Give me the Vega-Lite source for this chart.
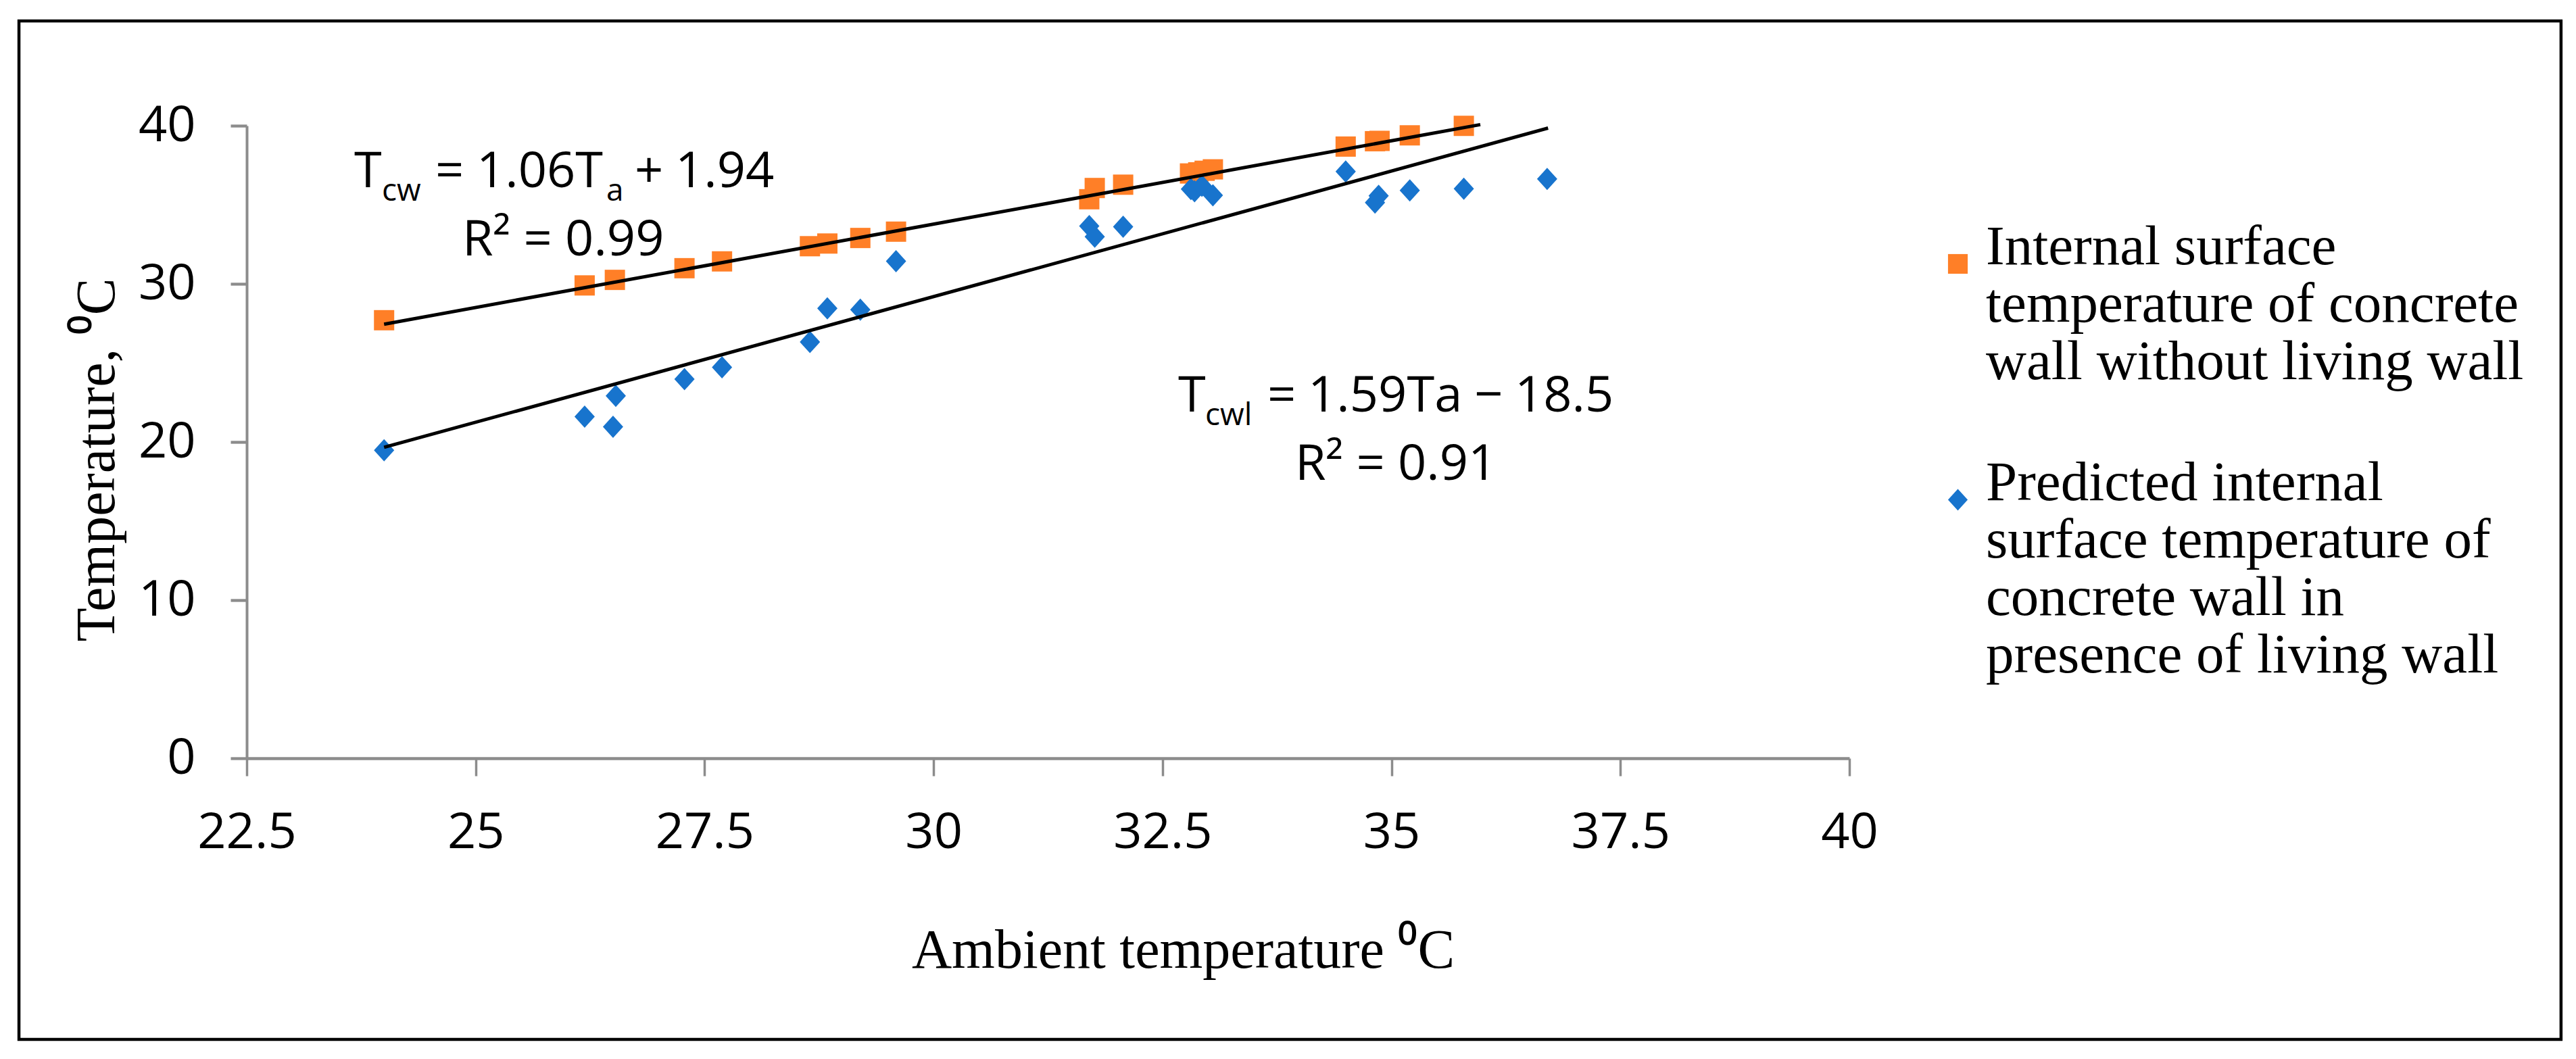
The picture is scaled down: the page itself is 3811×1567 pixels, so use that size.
{
  "$schema": "https://vega.github.io/schema/vega-lite/v6.json",
  "autosize": {"type": "none"},
  "padding": {"left": 365, "top": 186, "right": 1075, "bottom": 445},
  "width": 2371,
  "height": 936,
  "background": "white",
  "datasets": {
    "points": [
      {"series": "Internal surface temperature of concrete wall without living wall", "ta": 24.0, "t": 27.7},
      {"series": "Internal surface temperature of concrete wall without living wall", "ta": 26.19, "t": 29.9},
      {"series": "Internal surface temperature of concrete wall without living wall", "ta": 26.52, "t": 30.25},
      {"series": "Internal surface temperature of concrete wall without living wall", "ta": 27.28, "t": 30.99},
      {"series": "Internal surface temperature of concrete wall without living wall", "ta": 27.69, "t": 31.42},
      {"series": "Internal surface temperature of concrete wall without living wall", "ta": 28.65, "t": 32.38},
      {"series": "Internal surface temperature of concrete wall without living wall", "ta": 28.84, "t": 32.55},
      {"series": "Internal surface temperature of concrete wall without living wall", "ta": 29.2, "t": 32.9},
      {"series": "Internal surface temperature of concrete wall without living wall", "ta": 29.59, "t": 33.3},
      {"series": "Internal surface temperature of concrete wall without living wall", "ta": 31.7, "t": 35.35},
      {"series": "Internal surface temperature of concrete wall without living wall", "ta": 31.76, "t": 36.06},
      {"series": "Internal surface temperature of concrete wall without living wall", "ta": 32.07, "t": 36.27},
      {"series": "Internal surface temperature of concrete wall without living wall", "ta": 32.8, "t": 36.98},
      {"series": "Internal surface temperature of concrete wall without living wall", "ta": 32.89, "t": 37.05},
      {"series": "Internal surface temperature of concrete wall without living wall", "ta": 32.96, "t": 37.15},
      {"series": "Internal surface temperature of concrete wall without living wall", "ta": 33.05, "t": 37.24},
      {"series": "Internal surface temperature of concrete wall without living wall", "ta": 34.5, "t": 38.68},
      {"series": "Internal surface temperature of concrete wall without living wall", "ta": 34.82, "t": 39.02},
      {"series": "Internal surface temperature of concrete wall without living wall", "ta": 34.87, "t": 39.04},
      {"series": "Internal surface temperature of concrete wall without living wall", "ta": 35.2, "t": 39.39},
      {"series": "Internal surface temperature of concrete wall without living wall", "ta": 35.79, "t": 39.99},
      {"series": "Predicted internal surface temperature of concrete wall in presence of living wall", "ta": 24.0, "t": 19.48},
      {"series": "Predicted internal surface temperature of concrete wall in presence of living wall", "ta": 26.19, "t": 21.6},
      {"series": "Predicted internal surface temperature of concrete wall in presence of living wall", "ta": 26.53, "t": 22.92},
      {"series": "Predicted internal surface temperature of concrete wall in presence of living wall", "ta": 26.5, "t": 20.96},
      {"series": "Predicted internal surface temperature of concrete wall in presence of living wall", "ta": 27.28, "t": 23.97},
      {"series": "Predicted internal surface temperature of concrete wall in presence of living wall", "ta": 27.69, "t": 24.72},
      {"series": "Predicted internal surface temperature of concrete wall in presence of living wall", "ta": 28.65, "t": 26.32},
      {"series": "Predicted internal surface temperature of concrete wall in presence of living wall", "ta": 28.84, "t": 28.45},
      {"series": "Predicted internal surface temperature of concrete wall in presence of living wall", "ta": 29.2, "t": 28.37},
      {"series": "Predicted internal surface temperature of concrete wall in presence of living wall", "ta": 29.59, "t": 31.43},
      {"series": "Predicted internal surface temperature of concrete wall in presence of living wall", "ta": 31.7, "t": 33.65},
      {"series": "Predicted internal surface temperature of concrete wall in presence of living wall", "ta": 31.76, "t": 32.98},
      {"series": "Predicted internal surface temperature of concrete wall in presence of living wall", "ta": 32.07, "t": 33.61},
      {"series": "Predicted internal surface temperature of concrete wall in presence of living wall", "ta": 32.81, "t": 35.99},
      {"series": "Predicted internal surface temperature of concrete wall in presence of living wall", "ta": 32.85, "t": 35.85},
      {"series": "Predicted internal surface temperature of concrete wall in presence of living wall", "ta": 32.93, "t": 36.2},
      {"series": "Predicted internal surface temperature of concrete wall in presence of living wall", "ta": 33.05, "t": 35.6},
      {"series": "Predicted internal surface temperature of concrete wall in presence of living wall", "ta": 34.5, "t": 37.1},
      {"series": "Predicted internal surface temperature of concrete wall in presence of living wall", "ta": 34.86, "t": 35.57},
      {"series": "Predicted internal surface temperature of concrete wall in presence of living wall", "ta": 34.82, "t": 35.14},
      {"series": "Predicted internal surface temperature of concrete wall in presence of living wall", "ta": 35.2, "t": 35.91},
      {"series": "Predicted internal surface temperature of concrete wall in presence of living wall", "ta": 35.79, "t": 36.02},
      {"series": "Predicted internal surface temperature of concrete wall in presence of living wall", "ta": 36.7, "t": 36.63}
    ],
    "trends": [
      {"fit": "cw", "ta": 24.0, "t": 27.45},
      {"fit": "cw", "ta": 35.97, "t": 40.07},
      {"fit": "cwl", "ta": 24.0, "t": 19.66},
      {"fit": "cwl", "ta": 36.71, "t": 39.85}
    ],
    "labels": [
      {"kind": "main", "ta": 23.674, "t": 36.11, "text": "T"},
      {"kind": "sub", "ta": 23.976, "t": 35.256, "text": "cw"},
      {"kind": "main", "ta": 24.559, "t": 36.11, "text": "="},
      {"kind": "main", "ta": 25.009, "t": 36.11, "text": "1.06T"},
      {"kind": "sub", "ta": 26.426, "t": 35.256, "text": "a"},
      {"kind": "main", "ta": 26.736, "t": 36.11, "text": "+"},
      {"kind": "main", "ta": 27.179, "t": 36.11, "text": "1.94"},
      {"kind": "main", "ta": 24.854, "t": 31.795, "text": "R² = 0.99"},
      {"kind": "main", "ta": 32.671, "t": 21.923, "text": "T"},
      {"kind": "sub", "ta": 32.966, "t": 21.068, "text": "cwl"},
      {"kind": "main", "ta": 33.645, "t": 21.923, "text": "="},
      {"kind": "main", "ta": 34.088, "t": 21.923, "text": "1.59Ta"},
      {"kind": "main", "ta": 35.903, "t": 21.923, "text": "−"},
      {"kind": "main", "ta": 36.346, "t": 21.923, "text": "18.5"},
      {"kind": "main", "ta": 33.947, "t": 17.607, "text": "R² = 0.91"}
    ],
    "frame": [
      {"left": 20.013, "right": 47.771, "top": 46.624, "bottom": -17.778}
    ]
  },
  "encoding": {
    "x": {
      "field": "ta",
      "type": "quantitative",
      "scale": {"domain": [22.5, 40], "nice": false, "zero": false},
      "axis": {
        "title": "Ambient temperature ⁰C",
        "values": [22.5, 25, 27.5, 30, 32.5, 35, 37.5, 40],
        "format": ".3~g",
        "grid": false,
        "labelFont": "Open Sans",
        "labelFontSize": 74,
        "labelColor": "black",
        "labelPadding": 48,
        "labelFlush": false,
        "labelOverlap": false,
        "tickSize": 26,
        "tickWidth": 3.5,
        "tickColor": "#8c8c8c",
        "domainColor": "#8c8c8c",
        "domainWidth": 4.5,
        "titleFont": "Liberation Serif",
        "titleFontSize": 82,
        "titleFontWeight": "normal",
        "titleColor": "black",
        "titleX": 1385,
        "titleY": 309,
        "titleAlign": "center",
        "titleBaseline": "alphabetic"
      }
    },
    "y": {
      "field": "t",
      "type": "quantitative",
      "scale": {"domain": [0, 40], "nice": false},
      "axis": {
        "title": "Temperature, ⁰C",
        "values": [0, 10, 20, 30, 40],
        "grid": false,
        "labelFont": "Open Sans",
        "labelFontSize": 74,
        "labelColor": "black",
        "labelPadding": 52,
        "labelFlush": false,
        "tickSize": 24,
        "tickWidth": 4.3,
        "tickColor": "#8c8c8c",
        "domainColor": "#8c8c8c",
        "domainWidth": 4,
        "titleFont": "Liberation Serif",
        "titleFontSize": 82,
        "titleFontWeight": "normal",
        "titleColor": "black",
        "titleAngle": 270,
        "titleX": -197,
        "titleY": 494,
        "titleAlign": "center",
        "titleBaseline": "alphabetic"
      }
    }
  },
  "layer": [
    {
      "data": {"name": "frame"},
      "mark": {"type": "rect", "filled": false, "color": "black", "strokeWidth": 4.5, "clip": false},
      "encoding": {
        "x": {"field": "left", "type": "quantitative"},
        "x2": {"field": "right"},
        "y": {"field": "top", "type": "quantitative"},
        "y2": {"field": "bottom"}
      }
    },
    {
      "data": {"name": "points"},
      "mark": {"type": "point", "filled": true, "size": 900, "opacity": 1, "strokeWidth": 0},
      "encoding": {
        "color": {
          "field": "series",
          "type": "nominal",
          "scale": {
            "domain": [
              "Internal surface temperature of concrete wall without living wall",
              "Predicted internal surface temperature of concrete wall in presence of living wall"
            ],
            "range": ["#FF7F27", "#1874CD"]
          },
          "legend": {
            "title": null,
            "orient": "none",
            "legendX": 2490,
            "legendY": 163,
            "padding": 0,
            "rowPadding": 95,
            "symbolSize": 850,
            "symbolStrokeWidth": 0,
            "labelFont": "Liberation Serif",
            "labelFontSize": 83,
            "labelColor": "black",
            "labelLimit": 2000,
            "labelOffset": 0,
            "labelBaseline": "alphabetic",
            "labelExpr": "indexof(datum.label, 'Internal') == 0 ? ['Internal surface', 'temperature of concrete', 'wall without living wall'] : ['Predicted internal', 'surface temperature of', 'concrete wall in', 'presence of living wall']",
            "encode": {
              "labels": {"update": {"dy": {"value": 28}, "lineHeight": {"value": 95}}}
            }
          }
        },
        "shape": {
          "field": "series",
          "type": "nominal",
          "scale": {
            "domain": [
              "Internal surface temperature of concrete wall without living wall",
              "Predicted internal surface temperature of concrete wall in presence of living wall"
            ],
            "range": ["square", "M0,-1.1L1,0L0,1.1L-1,0Z"]
          }
        }
      }
    },
    {
      "data": {"name": "trends"},
      "mark": {"type": "line", "color": "black", "strokeWidth": 5},
      "encoding": {
        "detail": {"field": "fit", "type": "nominal"}
      }
    },
    {
      "data": {"name": "labels"},
      "transform": [{"filter": "datum.kind == 'main'"}],
      "mark": {"type": "text", "font": "Open Sans", "fontSize": 74, "align": "left", "baseline": "alphabetic", "color": "black"},
      "encoding": {
        "text": {"field": "text", "type": "nominal"}
      }
    },
    {
      "data": {"name": "labels"},
      "transform": [{"filter": "datum.kind == 'sub'"}],
      "mark": {"type": "text", "font": "Open Sans", "fontSize": 46, "align": "left", "baseline": "alphabetic", "color": "black"},
      "encoding": {
        "text": {"field": "text", "type": "nominal"}
      }
    }
  ],
  "config": {
    "view": {"stroke": null}
  }
}
